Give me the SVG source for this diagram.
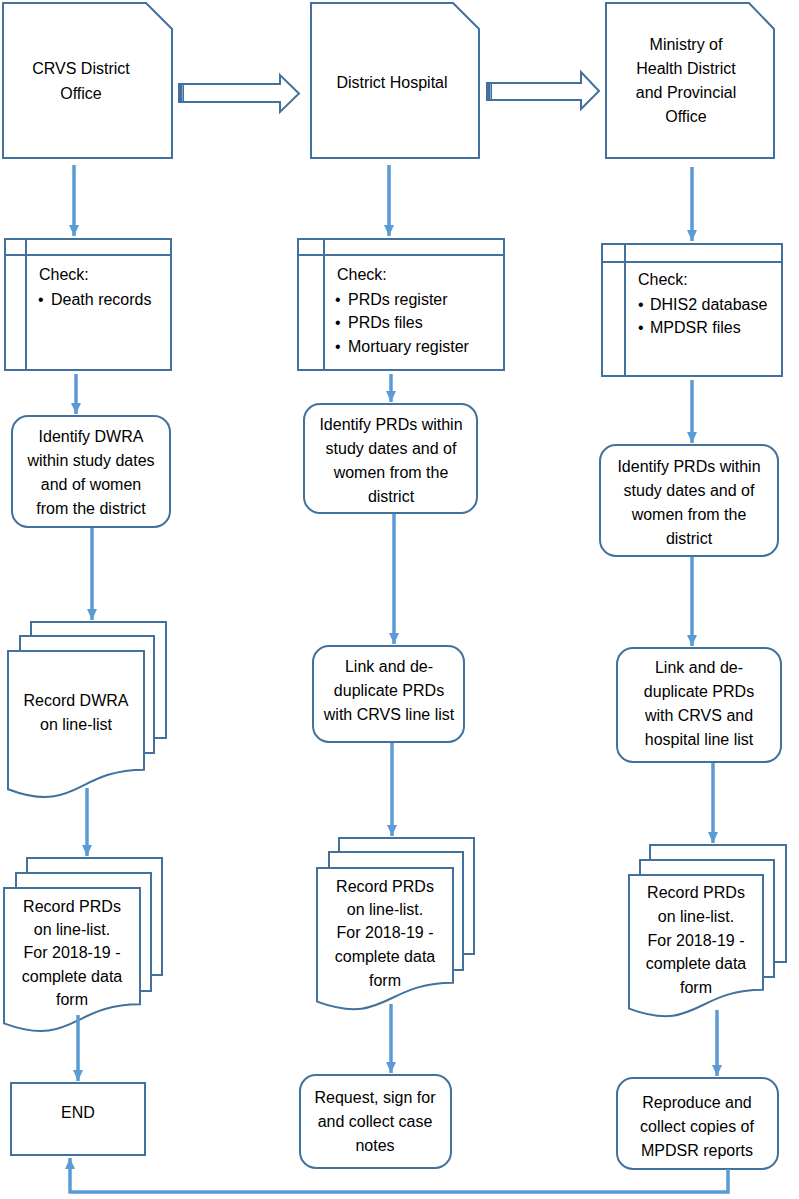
<svg xmlns="http://www.w3.org/2000/svg" width="799" height="1199" viewBox="0 0 799 1199">
<defs>
<marker id="ah" markerUnits="userSpaceOnUse" markerWidth="12" markerHeight="12" viewBox="0 0 12 12" refX="11" refY="6" orient="auto">
<path d="M0,1 L11,6 L0,11 Z" fill="#5B9BD5"/>
</marker>
<style>
.sh{fill:#fff;stroke:#41719C;stroke-width:2}
.ln{fill:none;stroke:#41719C;stroke-width:2}
.cn{fill:none;stroke:#5B9BD5;stroke-width:3.5;marker-end:url(#ah)}
.t{font-family:"Liberation Sans",Arial,sans-serif;font-size:16px;fill:#000}
.c{text-anchor:middle}
.dk{fill:#41719C}
</style>
</defs>
<rect width="799" height="1199" fill="#fff"/>

<g id="crvs-office">
<path class="sh" d="M3,3 H146 L172,29 V158 H3 Z"/>
<text class="t c" x="81" y="74">CRVS District</text>
<text class="t c" x="81" y="99">Office</text>
</g>
<g id="district-hospital">
<path class="sh" d="M311,3 H453 L479,29 V158 H311 Z"/>
<text class="t c" x="392" y="88">District Hospital</text>
</g>
<g id="moh-office">
<path class="sh" d="M606,3 H749 L774,29 V158 H606 Z"/>
<text class="t c" x="686" y="50">Ministry of</text>
<text class="t c" x="686" y="74">Health District</text>
<text class="t c" x="686" y="98">and Provincial</text>
<text class="t c" x="686" y="122">Office</text>
</g>

<g id="block-arrow-1">
<path class="sh" d="M179,84 H280 V75 L299,93.5 L280,112 V102 H179 Z"/>
<rect class="dk" x="179" y="84" width="5" height="18"/>
<line x1="182.5" y1="85" x2="182.5" y2="101" stroke="#7FA7CF" stroke-width="1"/>
</g>
<g id="block-arrow-2">
<path class="sh" d="M487,83 H581 V72 L599,91 L581,109 V100 H487 Z"/>
<rect class="dk" x="487" y="83" width="5" height="17"/>
<line x1="490.5" y1="84" x2="490.5" y2="99" stroke="#7FA7CF" stroke-width="1"/>
</g>

<g id="check-crvs">
<rect class="sh" x="5" y="239" width="166" height="131"/>
<line class="ln" x1="26" y1="239" x2="26" y2="370"/>
<line class="ln" x1="5" y1="255" x2="171" y2="255"/>
<text class="t" x="39" y="280">Check:</text>
<text class="t" x="38" y="305">•</text>
<text class="t" x="51" y="305">Death records</text>
</g>
<g id="check-hospital">
<rect class="sh" x="298" y="239" width="206" height="131"/>
<line class="ln" x1="324" y1="239" x2="324" y2="370"/>
<line class="ln" x1="298" y1="255" x2="504" y2="255"/>
<text class="t" x="337" y="280">Check:</text>
<text class="t" x="335" y="305">•</text>
<text class="t" x="348" y="305">PRDs register</text>
<text class="t" x="335" y="328">•</text>
<text class="t" x="348" y="328">PRDs files</text>
<text class="t" x="335" y="352">•</text>
<text class="t" x="348" y="352">Mortuary register</text>
</g>
<g id="check-moh">
<rect class="sh" x="602" y="244" width="180" height="132"/>
<line class="ln" x1="625" y1="244" x2="625" y2="376"/>
<line class="ln" x1="602" y1="262" x2="782" y2="262"/>
<text class="t" x="638" y="285">Check:</text>
<text class="t" x="638" y="310">•</text>
<text class="t" x="650" y="310">DHIS2 database</text>
<text class="t" x="638" y="333">•</text>
<text class="t" x="650" y="333">MPDSR files</text>
</g>

<g id="identify-dwra">
<rect class="sh" x="12" y="416" width="158" height="111" rx="16"/>
<text class="t c" x="91" y="442">Identify DWRA</text>
<text class="t c" x="91" y="466">within study dates</text>
<text class="t c" x="91" y="490">and of women</text>
<text class="t c" x="91" y="514">from the district</text>
</g>
<g id="identify-prds-hospital">
<rect class="sh" x="304" y="404" width="173" height="109" rx="16"/>
<text class="t c" x="391" y="430">Identify PRDs within</text>
<text class="t c" x="391" y="454">study dates and of</text>
<text class="t c" x="391" y="478">women from the</text>
<text class="t c" x="391" y="502">district</text>
</g>
<g id="identify-prds-moh">
<rect class="sh" x="600" y="445" width="178" height="111" rx="16"/>
<text class="t c" x="689" y="472">Identify PRDs within</text>
<text class="t c" x="689" y="496">study dates and of</text>
<text class="t c" x="689" y="520">women from the</text>
<text class="t c" x="689" y="544">district</text>
</g>

<g id="link-hospital">
<rect class="sh" x="313" y="646" width="151" height="96" rx="16"/>
<text class="t c" x="389" y="672">Link and de-</text>
<text class="t c" x="389" y="696">duplicate PRDs</text>
<text class="t c" x="389" y="720">with CRVS line list</text>
</g>
<g id="link-moh">
<rect class="sh" x="617" y="648" width="164" height="114" rx="16"/>
<text class="t c" x="699" y="673">Link and de-</text>
<text class="t c" x="699" y="697">duplicate PRDs</text>
<text class="t c" x="699" y="721">with CRVS and</text>
<text class="t c" x="699" y="745">hospital line list</text>
</g>

<g id="record-dwra">
<rect class="sh" x="31" y="622" width="135" height="116"/>
<rect class="sh" x="20" y="636" width="134" height="117"/>
<path class="sh" d="M8,651 H144 V769.7 C76,769.7 76,814.8 8,789.2 Z"/>
<text class="t c" x="76" y="706">Record DWRA</text>
<text class="t c" x="76" y="730">on line-list</text>
</g>
<g id="record-prds-crvs">
<rect class="sh" x="27" y="858" width="135" height="117"/>
<rect class="sh" x="16" y="873" width="135" height="118"/>
<path class="sh" d="M4,888 H140 V1004.3 C72,1004.3 72,1048.5 4,1023.4 Z"/>
<text class="t c" x="72" y="912">Record PRDs</text>
<text class="t c" x="72" y="935">on line-list.</text>
<text class="t c" x="72" y="958">For 2018-19 -</text>
<text class="t c" x="72" y="982">complete data</text>
<text class="t c" x="72" y="1005">form</text>
</g>
<g id="record-prds-hospital">
<rect class="sh" x="339" y="838" width="135" height="116"/>
<rect class="sh" x="329" y="852" width="134" height="118"/>
<path class="sh" d="M317,868 H453 V982.7 C385,982.7 385,1026.3 317,1001.6 Z"/>
<text class="t c" x="385" y="892">Record PRDs</text>
<text class="t c" x="385" y="915">on line-list.</text>
<text class="t c" x="385" y="938">For 2018-19 -</text>
<text class="t c" x="385" y="962">complete data</text>
<text class="t c" x="385" y="986">form</text>
</g>
<g id="record-prds-moh">
<rect class="sh" x="650" y="845" width="136" height="117"/>
<rect class="sh" x="640" y="860" width="134" height="117"/>
<path class="sh" d="M629,875 H763 V989.7 C696,989.7 696,1033.3 629,1008.6 Z"/>
<text class="t c" x="696" y="898">Record PRDs</text>
<text class="t c" x="696" y="922">on line-list.</text>
<text class="t c" x="696" y="946">For 2018-19 -</text>
<text class="t c" x="696" y="969">complete data</text>
<text class="t c" x="696" y="993">form</text>
</g>

<g id="end">
<rect class="sh" x="11" y="1083" width="134" height="72"/>
<text class="t c" x="78" y="1118">END</text>
</g>
<g id="request-notes">
<rect class="sh" x="300" y="1075" width="151" height="93" rx="16"/>
<text class="t c" x="375" y="1103">Request, sign for</text>
<text class="t c" x="375" y="1127">and collect case</text>
<text class="t c" x="375" y="1151">notes</text>
</g>
<g id="reproduce-reports">
<rect class="sh" x="617" y="1078" width="161" height="91" rx="16"/>
<text class="t c" x="697" y="1108">Reproduce and</text>
<text class="t c" x="697" y="1132">collect copies of</text>
<text class="t c" x="697" y="1156">MPDSR reports</text>
</g>

<g id="connectors">
<line class="cn" x1="74" y1="165" x2="74" y2="236"/>
<line class="cn" x1="389" y1="165" x2="389" y2="236"/>
<line class="cn" x1="692" y1="167" x2="692" y2="241"/>

<line class="cn" x1="76" y1="374" x2="76" y2="414"/>
<line class="cn" x1="391" y1="374" x2="391" y2="402"/>
<line class="cn" x1="692" y1="380" x2="692" y2="443"/>

<line class="cn" x1="92" y1="528" x2="92" y2="620"/>
<line class="cn" x1="394" y1="514" x2="394" y2="644"/>
<line class="cn" x1="692" y1="557" x2="692" y2="646"/>

<line class="cn" x1="87" y1="788" x2="87" y2="856"/>
<line class="cn" x1="392" y1="743" x2="392" y2="836"/>
<line class="cn" x1="713" y1="763" x2="713" y2="843"/>

<line class="cn" x1="78" y1="1015" x2="78" y2="1081"/>
<line class="cn" x1="391" y1="1004" x2="391" y2="1073"/>
<line class="cn" x1="717" y1="1010" x2="717" y2="1076"/>

<path class="cn" d="M728,1169 V1192 H70 V1158"/>
</g>
</svg>
